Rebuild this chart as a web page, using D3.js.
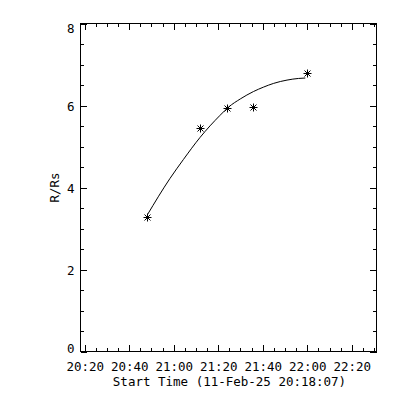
<!DOCTYPE html>
<html>
<head>
<meta charset="utf-8">
<script src="https://cdn.jsdelivr.net/npm/d3@7"></script>
<style>
  body { margin: 0; background: #fff; }
  text { font-family: "DejaVu Sans Mono", monospace; font-size: 12.5px; fill: #000; }
</style>
</head>
<body>
<div id="chart"></div>
<script>
// Observation times and heights (R/Rs)
const startTime = "2025-02-11 20:18:07";
const endTime = "2025-02-11 22:31:07";
const obsTimes = ["20:48:05", "21:11:50", "21:24:10", "21:35:50", "21:59:55"];
const radius = [3.29, 5.44, 5.93, 5.96, 6.79];

// fitted curve
const fitTimes = ["20:48:07", "20:58:19", "21:04:19", "21:11:49", "21:20:49", "21:24:37",
    "21:29:55", "21:35:49", "21:40:25", "21:44:55", "21:50:55", "21:56:07", "21:59:07"];
const fitRadius = [3.33, 4.22, 4.68, 5.22, 5.76, 5.96, 6.16, 6.34, 6.45, 6.54, 6.62, 6.66, 6.67];

const yTicks = [0, 2, 4, 6, 8];
const xTitle = "Start Time (11-Feb-25 20:18:07)";
const yTitle = "R/Rs";

const parseFull = d3.timeParse("%Y-%m-%d %H:%M:%S");
const parseT = s => parseFull("2025-02-11 " + s);

const plotL = 80.5, plotR = 376.5, plotT = 23.5, plotB = 351.5;

const svg = d3.select("#chart").append("svg")
    .attr("width", 400)
    .attr("height", 400);

const x = d3.scaleTime()
    .domain([parseFull(startTime), parseFull(endTime)])
    .range([plotL, plotR]);

const y = d3.scaleLinear()
    .domain([0, 8])
    .range([plotB, plotT]);

const majorX = d3.timeMinute.every(20).range(x.domain()[0], x.domain()[1]);
const minorX = d3.timeMinute.every(5).range(x.domain()[0], x.domain()[1]);
const minorY = d3.range(0, 8.01, 0.5);
const fmt = d3.timeFormat("%H:%M");

// frame
svg.append("rect")
    .attr("x", plotL).attr("y", plotT)
    .attr("width", plotR - plotL).attr("height", plotB - plotT)
    .attr("fill", "none").attr("stroke", "#000")
    .attr("shape-rendering", "crispEdges");

// ticks, drawn inward on all four sides
const addAxis = (axis, tx, ty) => svg.append("g")
    .attr("transform", `translate(${tx},${ty})`)
    .attr("shape-rendering", "crispEdges")
    .call(axis)
    .call(g => g.select(".domain").remove());

addAxis(d3.axisBottom(x).tickValues(minorX).tickSize(-3.5).tickFormat(""), 0, plotB);
addAxis(d3.axisTop(x).tickValues(minorX).tickSize(-3.5).tickFormat(""), 0, plotT);
addAxis(d3.axisTop(x).tickValues(majorX).tickSize(-6.5).tickFormat(""), 0, plotT);
addAxis(d3.axisLeft(y).tickValues(minorY).tickSize(-3.5).tickFormat(""), plotL, 0);
addAxis(d3.axisRight(y).tickValues(minorY).tickSize(-3.5).tickFormat(""), plotR, 0);
addAxis(d3.axisRight(y).tickValues(yTicks).tickSize(-6.5).tickFormat(""), plotR, 0);

const xAx = addAxis(d3.axisBottom(x).tickValues(majorX).tickSize(-6.5).tickPadding(12).tickFormat(fmt), 0, plotB);
xAx.selectAll("text").attr("dy", null).attr("y", 19);

const yAx = addAxis(d3.axisLeft(y).tickValues(yTicks).tickSize(-6.5).tickPadding(6), plotL, 0);
// IDL keeps the end labels inside the axis range
yAx.selectAll(".tick text")
    .attr("dy", null)
    .attr("dominant-baseline", "central")
    .attr("y", d => d === 0 ? -4 : d === 8 ? 4.5 : 0);

// fitted curve
const line = d3.line()
    .x((d, i) => x(parseT(d)))
    .y((d, i) => y(fitRadius[i]))
    .curve(d3.curveMonotoneX);

svg.append("path")
    .attr("d", line(fitTimes))
    .attr("fill", "none")
    .attr("stroke", "#000")
    .attr("stroke-width", 1);

// asterisk markers
const r = 4;
const star = svg.selectAll(".star")
    .data(obsTimes)
    .enter().append("g")
    .attr("class", "star")
    .attr("transform", (d, i) => `translate(${Math.round(x(parseT(d))) + 0.5},${Math.round(y(radius[i])) + 0.5})`);

[[-r, 0, r, 0], [0, -r, 0, r], [-r * 0.75, -r * 0.75, r * 0.75, r * 0.75], [-r * 0.75, r * 0.75, r * 0.75, -r * 0.75]]
    .forEach(s => {
        star.append("line")
            .attr("x1", s[0]).attr("y1", s[1])
            .attr("x2", s[2]).attr("y2", s[3])
            .attr("stroke", "#000");
    });

// titles
svg.append("text")
    .attr("x", (plotL + plotR) / 2 + 1)
    .attr("y", 386)
    .attr("text-anchor", "middle")
    .text(xTitle);

svg.append("text")
    .attr("transform", `translate(59,${(plotT + plotB) / 2})rotate(-90)`)
    .attr("text-anchor", "middle")
    .text(yTitle);
</script>
</body>
</html>
